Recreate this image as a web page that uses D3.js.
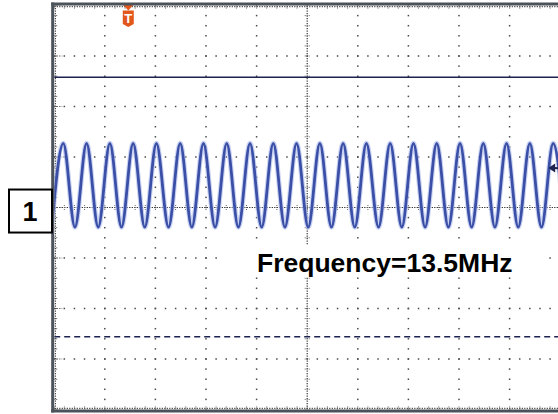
<!DOCTYPE html>
<html><head><meta charset="utf-8">
<script src="https://cdn.jsdelivr.net/npm/d3@7"></script>
<style>html,body{margin:0;padding:0;background:#fff;} svg{display:block;}</style>
</head><body>
<script>
// ---- data (divisions: time 0..10, volts -4..4) ----
const peakTimes = [0.18, 0.64, 1.10, 1.56, 2.02, 2.49, 2.95, 3.41, 3.87, 4.33, 4.79, 5.25, 5.71, 6.17, 6.64, 7.10, 7.56, 8.02, 8.48, 8.94, 9.40, 9.86];
const troughTimes = [-0.05, 0.41, 0.87, 1.33, 1.79, 2.26, 2.72, 3.18, 3.64, 4.10, 4.56, 5.02, 5.48, 5.94, 6.41, 6.87, 7.33, 7.79, 8.25, 8.71, 9.17, 9.63, 10.09];
const peakLevel = 1.27;
const troughLevel = -0.39;
const xDivisions = [0, 1, 2, 3, 4, 5, 6, 7, 8, 9, 10];
const yDivisions = [-4, -3, -2, -1, 0, 1, 2, 3, 4];
const frequencyLabel = "Frequency=13.5MHz";
const channelLabel = "1";
const channelLevel = -0.07;
const triggerTime = 1.464;
const triggerLevel = 0.78;
const cursorSolid = 2.58;
const cursorDashed = -2.56;

const W = 558, H = 414;
const x = d3.scaleLinear().domain([0, 10]).range([54.2, 560.2]);
const y = d3.scaleLinear().domain([-4, 4]).range([409.5, 5.5]);

const svg = d3.select("body").append("svg").attr("width", W).attr("height", H);
svg.append("rect").attr("width", W).attr("height", H).attr("fill", "#ffffff");
const defs = svg.append("defs");
defs.append("clipPath").attr("id", "plot")
  .append("rect").attr("x", x(0)).attr("y", y(4)).attr("width", x(10) - x(0)).attr("height", y(-4) - y(4));
defs.append("filter").attr("id", "soft").attr("x", "-5%").attr("y", "-5%").attr("width", "110%").attr("height", "110%")
  .append("feGaussianBlur").attr("stdDeviation", 0.6);

const g = svg.append("g").attr("clip-path", "url(#plot)");
const dotColor = "#4a4a4a";
const minor = d3.range(0, 50.001, 1).map(i => i * 0.2);
const minorY = d3.range(0, 40.001, 1).map(i => -4 + i * 0.2);

// major vertical grid (dots each minor division)
xDivisions.filter(d => d > 0 && d < 10 && d !== 5).forEach(d => {
  g.selectAll(null).data(minorY).enter().append("rect")
    .attr("x", x(d) - 0.75).attr("y", v => y(v) - 0.75).attr("width", 1.5).attr("height", 1.5).attr("fill", dotColor);
});
// major horizontal grid
yDivisions.filter(d => d > -4 && d < 4 && d !== 0).forEach(d => {
  g.selectAll(null).data(minor).enter().append("rect")
    .attr("x", v => x(v) - 0.75).attr("y", y(d) - 0.75).attr("width", 1.5).attr("height", 1.5).attr("fill", dotColor);
});
// center axes: dense dotted with minor ticks
g.append("line").attr("x1", x(0)).attr("x2", x(10)).attr("y1", y(0)).attr("y2", y(0))
  .attr("stroke", "#222").attr("stroke-width", 1.2).attr("stroke-dasharray", "1.2,1.3");
g.append("line").attr("x1", x(5)).attr("x2", x(5)).attr("y1", y(4)).attr("y2", y(-4))
  .attr("stroke", "#333").attr("stroke-width", 1.2).attr("stroke-dasharray", "1.2,1.3");
g.selectAll(null).data(minor).enter().append("line")
  .attr("x1", v => x(v)).attr("x2", v => x(v)).attr("y1", y(0) - 2.5).attr("y2", y(0) + 2.5)
  .attr("stroke", "#666").attr("stroke-width", 1).attr("stroke-dasharray", "1,1");
g.selectAll(null).data(minorY).enter().append("line")
  .attr("x1", x(5) - 2.5).attr("x2", x(5) + 2.5).attr("y1", v => y(v)).attr("y2", v => y(v))
  .attr("stroke", "#666").attr("stroke-width", 1).attr("stroke-dasharray", "1,1");
// border ticks
g.append("line").attr("x1", x(0)).attr("x2", x(10)).attr("y1", y(-4) - 1.2).attr("y2", y(-4) - 1.2)
  .attr("stroke", "#444").attr("stroke-width", 1.2).attr("stroke-dasharray", "1.2,1.3");
g.append("line").attr("x1", x(0)).attr("x2", x(10)).attr("y1", y(4) + 1.2).attr("y2", y(4) + 1.2)
  .attr("stroke", "#444").attr("stroke-width", 1.2).attr("stroke-dasharray", "1.2,1.3");
g.append("line").attr("x1", x(0) + 1.2).attr("x2", x(0) + 1.2).attr("y1", y(4)).attr("y2", y(-4))
  .attr("stroke", "#444").attr("stroke-width", 1.2).attr("stroke-dasharray", "1.2,1.3");
g.selectAll(null).data(minor).enter().append("line")
  .attr("x1", v => x(v)).attr("x2", v => x(v)).attr("y1", y(-4)).attr("y2", y(-4) - 4)
  .attr("stroke", "#555").attr("stroke-width", 1).attr("stroke-dasharray", "1,1");
g.selectAll(null).data(minor).enter().append("line")
  .attr("x1", v => x(v)).attr("x2", v => x(v)).attr("y1", y(4)).attr("y2", y(4) + 4)
  .attr("stroke", "#555").attr("stroke-width", 1).attr("stroke-dasharray", "1,1");
g.selectAll(null).data(minorY).enter().append("line")
  .attr("x1", x(0)).attr("x2", x(0) + 4).attr("y1", v => y(v)).attr("y2", v => y(v))
  .attr("stroke", "#555").attr("stroke-width", 1).attr("stroke-dasharray", "1,1");
yDivisions.forEach(d => {
  g.append("line").attr("x1", x(0)).attr("x2", x(0) + 8).attr("y1", y(d)).attr("y2", y(d))
    .attr("stroke", "#555").attr("stroke-width", 1.2).attr("stroke-dasharray", "1.2,1.3");
});

// cursors
g.append("line").attr("x1", x(0)).attr("x2", x(10)).attr("y1", y(cursorSolid)).attr("y2", y(cursorSolid))
  .attr("stroke", "#1c2350").attr("stroke-width", 1.6);
g.append("line").attr("x1", x(0)).attr("x2", x(10)).attr("y1", y(cursorDashed)).attr("y2", y(cursorDashed))
  .attr("stroke", "#1c2350").attr("stroke-width", 1.6).attr("stroke-dasharray", "6,4");

// frequency label background + text
g.append("rect").attr("x", 223).attr("y", 245).attr("width", 325).attr("height", 32).attr("fill", "#ffffff");
svg.append("text").attr("x", 257).attr("y", 271.5).text(frequencyLabel)
  .attr("font-family", "'Liberation Sans', Arial, sans-serif").attr("font-weight", "bold")
  .attr("font-size", 26.5).attr("fill", "#000");

// waveform
const pts = peakTimes.map(t => ({t, v: peakLevel}))
  .concat(troughTimes.map(t => ({t, v: troughLevel})))
  .sort((a, b) => a.t - b.t);
const line = d3.line().x(d => x(d.t)).y(d => y(d.v)).curve(d3.curveMonotoneX);
const wave = g.append("g").attr("filter", "url(#soft)");
wave.append("path").attr("d", line(pts)).attr("fill", "none").attr("stroke", "#b4c0ec").attr("stroke-width", 5).attr("stroke-opacity", 0.7);
wave.append("path").attr("d", line(pts)).attr("fill", "none").attr("stroke", "#3a4fa6").attr("stroke-width", 2.8);

// trigger level arrow (right)
const ay = y(triggerLevel);
svg.append("path").attr("d", `M${x(10) - 12},${ay} L${x(10) - 5},${ay - 4.5} L${x(10) - 5},${ay + 4.5} Z`).attr("fill", "#1c2350");
svg.append("line").attr("x1", x(10) - 6).attr("x2", x(10)).attr("y1", ay).attr("y2", ay).attr("stroke", "#1c2350").attr("stroke-width", 2);

// trigger time marker (top)
const tx = x(triggerTime);
svg.append("path").attr("d", `M${tx - 5},${y(4) - 0.5} L${tx + 5},${y(4) - 0.5} L${tx},${y(4) + 5} Z`).attr("fill", "#e2571b");
svg.append("path").attr("d", `M${tx - 5.5},${y(4) + 5} L${tx + 5.5},${y(4) + 5} L${tx + 5.5},${y(4) + 18.5} L${tx},${y(4) + 21.5} L${tx - 5.5},${y(4) + 18.5} Z`).attr("fill", "#e2571b");
svg.append("text").attr("x", tx).attr("y", y(4) + 17.5).attr("text-anchor", "middle").text("T")
  .attr("font-family", "'Liberation Sans', Arial, sans-serif").attr("font-weight", "bold").attr("font-size", 13).attr("fill", "#fff");

// border
svg.append("line").attr("x1", x(0) - 1.5).attr("x2", x(0) - 1.5).attr("y1", y(4) - 3).attr("y2", y(-4) + 3).attr("stroke", "#4c5259").attr("stroke-width", 3);
svg.append("line").attr("x1", x(0) - 3).attr("x2", W).attr("y1", y(4) - 1.5).attr("y2", y(4) - 1.5).attr("stroke", "#4c5259").attr("stroke-width", 3);
svg.append("line").attr("x1", x(0) - 3).attr("x2", W).attr("y1", y(-4) + 1.5).attr("y2", y(-4) + 1.5).attr("stroke", "#4c5259").attr("stroke-width", 3);

// channel marker
const cy = y(channelLevel);
svg.append("rect").attr("x", 9).attr("y", cy - 21.5).attr("width", 43).attr("height", 43)
  .attr("fill", "#fff").attr("stroke", "#000").attr("stroke-width", 2);
svg.append("text").attr("x", 30).attr("y", cy + 10).attr("text-anchor", "middle").text(channelLabel)
  .attr("font-family", "'Liberation Sans', Arial, sans-serif").attr("font-weight", "bold").attr("font-size", 27).attr("fill", "#000");
</script>
</body></html>
